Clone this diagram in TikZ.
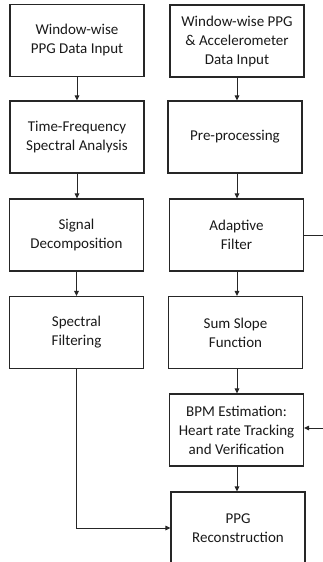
\documentclass[tikz,border=0pt]{standalone}
\usepackage{fontspec}
\setmainfont{Carlito}
\usetikzlibrary{arrows.meta}
\begin{document}
\begin{tikzpicture}[x=1pt,y=-1pt,
  box/.style={draw=black!85,line width=1.1pt,minimum width=134pt,minimum height=72pt,inner sep=0pt,align=center,font=\fontsize{15}{19}\selectfont,text=black!90},
  arr/.style={draw=black!85,line width=1pt,-{Triangle[length=5pt,width=4.5pt]}},
  ln/.style={draw=black!85,line width=1pt}]
\useasboundingbox (0,0) rectangle (323,562);
\clip (0,0) rectangle (323,562);
\node[box] (L1) at (77,40.5) {Window-wise\\PPG Data Input};
\node[box] (L2) at (77,137) {Time-Frequency\\Spectral Analysis};
\node[box] (L3) at (76.5,235) {Signal\\Decomposition};
\node[box] (L4) at (76.5,332.5) {Spectral\\Filtering};
\node[box] (R1) at (237,41) {Window-wise PPG\\\&~Accelerometer\\Data Input};
\node[box] (R2) at (235,137) {Pre-processing};
\node[box] (R3) at (236.5,235) {Adaptive\\Filter};
\node[box] (R4) at (235.5,332.5) {Sum Slope\\Function};
\node[box] (R5) at (236.5,430) {BPM Estimation:\\Heart rate Tracking\\and Verification};
\node[box] (R6) at (238,528) {PPG\\Reconstruction};
\coordinate (e1) at (324,235);
\coordinate (e2) at (324,428);
\draw[arr] (L1.south) -- (L1.south |- L2.north);
\draw[arr] (L2.south) -- (L2.south |- L3.north);
\draw[arr] (L3.south) -- (L3.south |- L4.north);
\draw[arr] (L4.south) |- (R6.west);
\draw[arr] (R1.south) -- (R1.south |- R2.north);
\draw[arr] (R1.south |- R2.south) -- (R1.south |- R3.north);
\draw[arr] (R1.south |- R3.south) -- (R1.south |- R4.north);
\draw[arr] (R1.south |- R4.south) -- (R1.south |- R5.north);
\draw[arr] (R1.south |- R5.south) -- (R1.south |- R6.north);
\draw[ln] (R3.east) -- (e1);
\draw[arr] (e2) -- (R5.east |- e2);
\end{tikzpicture}
\end{document}
